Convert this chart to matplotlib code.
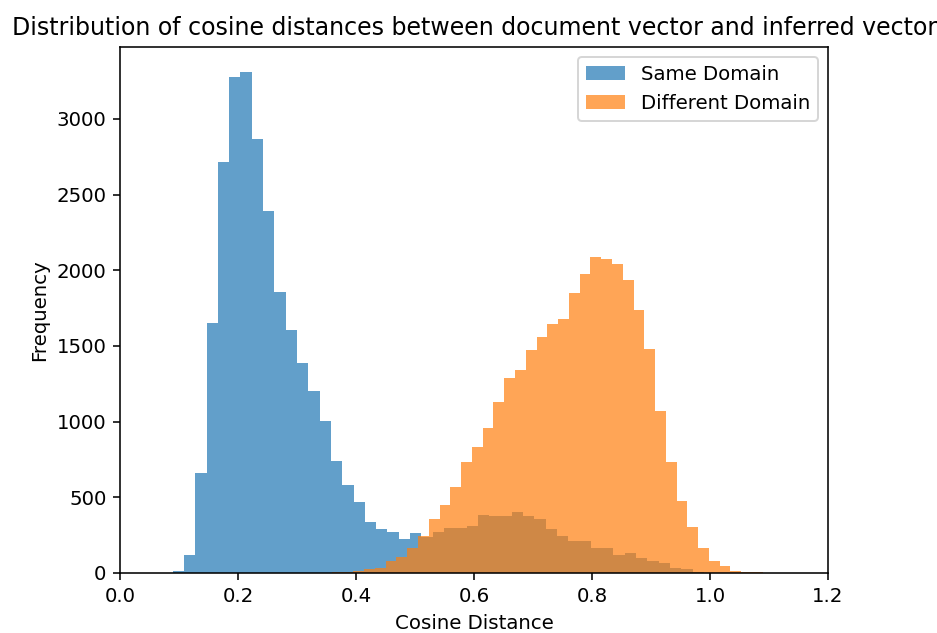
import numpy as np
import matplotlib.pyplot as plt

# Histogram counts per bin for each group of document pairs
same_counts = [10, 119, 659, 1654, 2716, 3274, 3309, 2866, 2388, 1853,
               1606, 1390, 1203, 1005, 740, 580, 469, 335, 289, 269,
               223, 261, 240, 270, 300, 300, 310, 382, 374, 374,
               401, 374, 355, 289, 242, 214, 214, 164, 164, 120,
               130, 101, 81, 64, 35, 24, 7, 3, 0, 1]
same_range = (0.0886, 1.047)

diff_counts = [2, 4, 6,
               13, 24, 35, 81, 104, 167, 245, 355, 447, 571,
               732, 835, 956, 1128, 1287, 1342, 1476, 1558, 1642, 1681,
               1852, 1975, 2086, 2075, 2040, 1937, 1738, 1478, 1071, 736,
               478, 302, 167, 82, 44, 14, 5, 5]
diff_range = (0.3403, 1.0894)


def bin_centers(counts, rng):
    edges = np.linspace(rng[0], rng[1], len(counts) + 1)
    return (edges[:-1] + edges[1:]) / 2


fig = plt.figure(figsize=(937 / 142, 633 / 142), dpi=142)
ax = fig.add_axes([0.1285, 0.0948, 0.8837 - 0.1285, 0.9257 - 0.0948])

ax.hist(bin_centers(same_counts, same_range), bins=len(same_counts),
        range=same_range, weights=same_counts, alpha=0.7, label='Same Domain')
ax.hist(bin_centers(diff_counts, diff_range), bins=len(diff_counts),
        range=diff_range, weights=diff_counts, alpha=0.7, label='Different Domain')

ax.set_xlim(0, 1.2)
ax.set_xlabel('Cosine Distance')
ax.set_ylabel('Frequency')
ax.set_title('Distribution of cosine distances between document vector and inferred vector')
ax.legend()

fig.savefig('out.png', dpi=142)
